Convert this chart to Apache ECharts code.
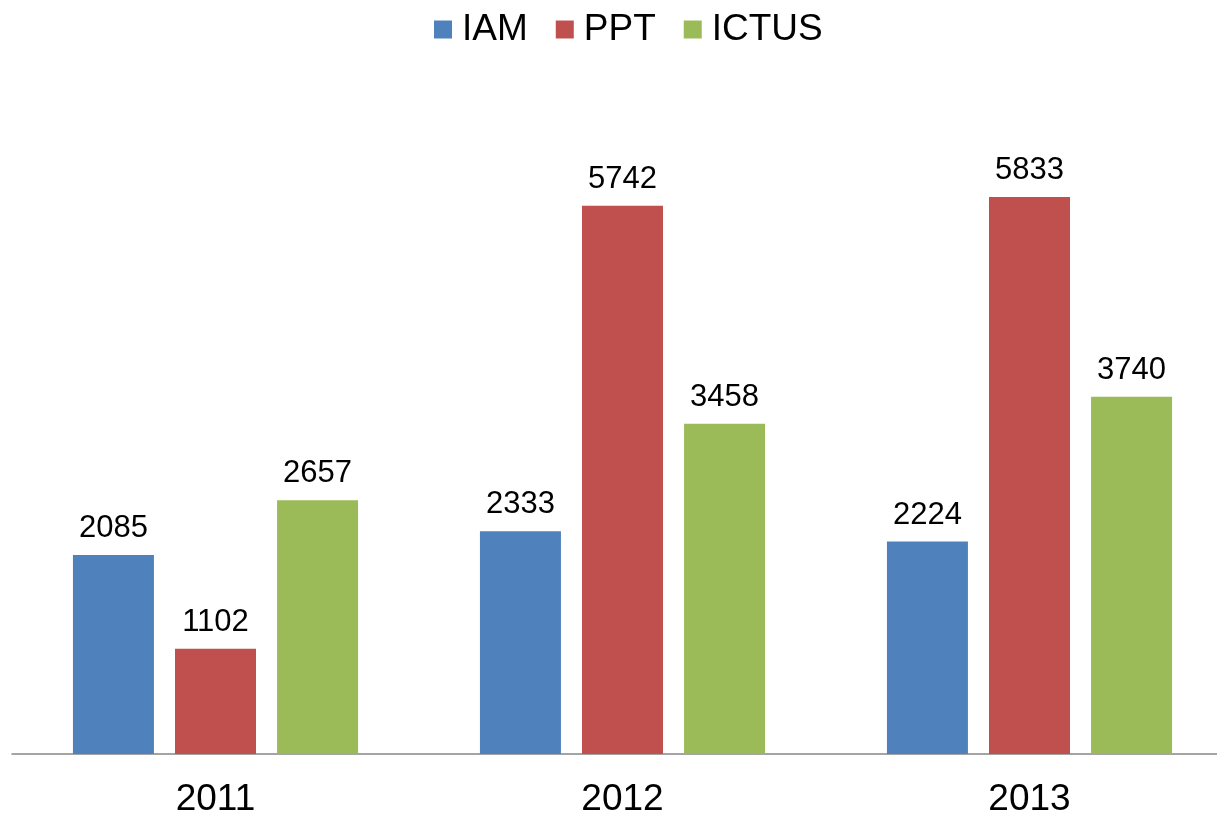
<!DOCTYPE html>
<html><head><meta charset="utf-8">
<script src="https://cdn.jsdelivr.net/npm/echarts@6/dist/echarts.min.js"></script>
<style>html,body{margin:0;padding:0;background:#fff}#c{width:1217px;height:816px}</style>
</head><body><div id="c"></div>
<script>
const categories = ['2011', '2012', '2013'];
const seriesNames = ['IAM', 'PPT', 'ICTUS'];
const iam = [2085, 2333, 2224];
const ppt = [1102, 5742, 5833];
const ictus = [2657, 3458, 3740];
const colors = ['#4F81BD', '#C0504D', '#9BBB59'];
const values = [iam, ppt, ictus];

const font = '"Liberation Sans", Arial, sans-serif';
const chart = echarts.init(document.getElementById('c'));
chart.setOption({
  animation: false,
  legend: {
    top: 6, left: 429,
    itemWidth: 18, itemHeight: 18, itemGap: 28,
    icon: 'rect',
    textStyle: { fontSize: 37, fontFamily: font, color: '#000', padding: [0, 0, 0, 5] },
    data: seriesNames
  },
  grid: { left: 12, width: 1221, top: 85.5, height: 668.5, outerBoundsMode: 'none', containLabel: false },
  xAxis: {
    type: 'category', data: categories,
    axisLine: { lineStyle: { color: '#868686', width: 1.5 } },
    axisTick: { show: false },
    axisLabel: { fontSize: 37, fontFamily: font, color: '#000', margin: 27 }
  },
  yAxis: { type: 'value', min: 0, max: 7000, show: false, splitLine: { show: false } },
  series: seriesNames.map((n, i) => ({
    name: n, type: 'bar', data: values[i],
    barWidth: 81, barGap: '26%',
    itemStyle: { color: colors[i] },
    label: { show: true, position: 'top', distance: 11, fontSize: 31, fontFamily: font, color: '#000' }
  }))
});
</script></body></html>
